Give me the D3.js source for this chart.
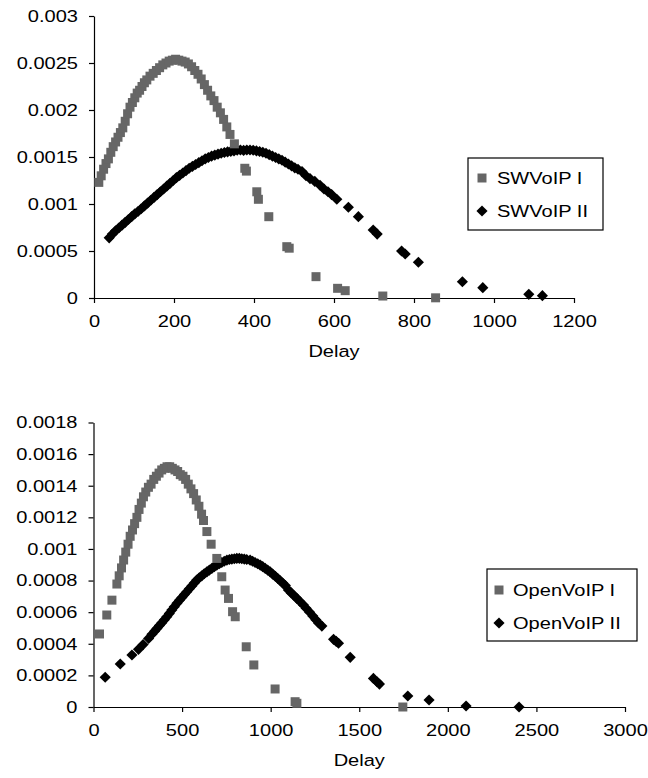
<!DOCTYPE html>
<html>
<head>
<meta charset="utf-8">
<script src="https://cdn.jsdelivr.net/npm/d3@7"></script>
<style>
  html, body { margin: 0; padding: 0; background: #fff; }
  svg { display: block; }
  text { font-family: "Liberation Sans", Arial, sans-serif; font-size: 17px; fill: #000; }
</style>
</head>
<body>
<svg id="chart" width="648" height="778"></svg>
<script>
// ---------- DATA ----------
// Top chart: SWVoIP
const swDelayI = [12,18,24,30,36,42,48,54,60,66,72,78,84,90,96,102,108,114,120,126,132,140,148,156,164,172,180,188,196,204,212,220,228,236,244,252,260,268,276,284,292,300,308,316,324,332,340,351,377,381,407,411,437,482,488,555,609,628,722,854];
const swValueI = [0.00123,0.00130,0.00137,0.00143,0.00148,0.00155,0.00161,0.00166,0.00171,0.00176,0.00181,0.00188,0.00196,0.00203,0.00208,0.00213,0.00218,0.00221,0.00225,0.00229,0.00232,0.00236,0.00239,0.00242,0.00245,0.00248,0.00250,0.00252,0.00253,0.00254,0.00253,0.00252,0.00251,0.00249,0.00246,0.00242,0.00238,0.00233,0.00227,0.00221,0.00215,0.00210,0.00203,0.00197,0.00190,0.00182,0.00174,0.00164,0.00138,0.00135,0.00113,0.00105,0.000865,0.000546,0.00053,0.000227,0.000103,0.000078,0.000021,0.000002];

const swDelayII = [38,46,54,62,70,78,86,94,102,110,118,126,134,142,150,158,166,174,182,190,198,206,214,222,230,238,246,254,262,270,278,286,294,302,310,318,326,334,342,350,358,366,374,382,390,398,406,414,422,430,438,446,454,462,470,478,486,494,502,510,520,530,540,552,565,575,585,594,607,636,661,698,708,769,778,811,921,972,1087,1121];
const swValueII = [0.000640,0.000680,0.000715,0.000745,0.000775,0.000805,0.000835,0.000865,0.000895,0.000920,0.000950,0.000980,0.001010,0.001040,0.001070,0.001100,0.001130,0.001160,0.001190,0.001220,0.001250,0.001280,0.001305,0.001330,0.001355,0.001380,0.001400,0.001420,0.001440,0.001460,0.001480,0.001495,0.001510,0.001520,0.001530,0.001540,0.001548,0.001555,0.001560,0.001565,0.001572,0.001575,0.001570,0.001575,0.001574,0.001572,0.001565,0.001558,0.001550,0.001540,0.001525,0.001510,0.001495,0.001480,0.001465,0.001445,0.001425,0.001405,0.001385,0.001370,0.001345,0.001300,0.001270,0.001240,0.001200,0.001160,0.001130,0.001100,0.001050,0.000965,0.000865,0.000723,0.000680,0.000500,0.000468,0.000380,0.000173,0.000110,0.000039,0.000025];

// Bottom chart: OpenVoIP
const opDelayI = [34,75,104,132,145,158,170,182,195,207,220,232,245,257,270,282,295,310,325,340,355,370,385,400,415,430,445,460,475,490,505,520,535,550,565,580,595,610,621,640,664,696,724,743,762,785,800,862,905,1025,1138,1148,1746];
const opValueI = [0.000462,0.000582,0.000676,0.000778,0.00083,0.00088,0.00093,0.00098,0.00103,0.00108,0.00112,0.00116,0.00120,0.00125,0.00129,0.00133,0.00136,0.00139,0.00141,0.00144,0.00146,0.00148,0.00150,0.00151,0.00152,0.00152,0.00151,0.00150,0.00149,0.00147,0.00146,0.00144,0.00141,0.00138,0.00135,0.00131,0.00127,0.00122,0.00118,0.00111,0.00103,0.00094,0.000824,0.00074,0.000687,0.000603,0.000571,0.000381,0.000266,0.000114,0.0000335,0.0000234,0.0];

const opDelayII = [66,151,217,254,280,311,330,345,358,372,386,400,414,428,442,456,471,485,499,513,527,541,555,569,583,597,611,625,640,654,668,682,696,710,724,738,753,767,781,795,809,823,837,851,865,884,898,912,927,941,955,969,983,997,1011,1026,1040,1054,1068,1083,1100,1116,1132,1148,1165,1185,1200,1220,1238,1255,1270,1289,1355,1370,1383,1449,1580,1600,1614,1774,1894,2103,2402];
const opValueII = [0.000188,0.000272,0.000329,0.000365,0.000395,0.000434,0.000460,0.000480,0.000497,0.000515,0.000533,0.000552,0.000571,0.000592,0.000613,0.000634,0.000656,0.000675,0.000693,0.000711,0.000729,0.000748,0.000766,0.000785,0.000803,0.000818,0.000830,0.000843,0.000855,0.000866,0.000877,0.000888,0.000898,0.000906,0.000914,0.000922,0.000929,0.000933,0.000936,0.000938,0.000940,0.000940,0.000938,0.000936,0.000933,0.000929,0.000922,0.000914,0.000906,0.000898,0.000888,0.000877,0.000866,0.000855,0.000841,0.000827,0.000813,0.000799,0.000784,0.000768,0.000740,0.000722,0.000705,0.000687,0.000668,0.000645,0.000625,0.000600,0.000575,0.000552,0.000532,0.000512,0.000428,0.000415,0.000403,0.000314,0.000181,0.000160,0.000145,0.0000695,0.0000443,0.0000063,0.0];

// Tick values / labels
const topXTicks = [0,200,400,600,800,1000,1200];
const topXLabels = ["0","200","400","600","800","1000","1200"];
const topYTicks = [0,0.0005,0.001,0.0015,0.002,0.0025,0.003];
const topYLabels = ["0","0.0005","0.001","0.0015","0.002","0.0025","0.003"];
const botXTicks = [0,500,1000,1500,2000,2500,3000];
const botXLabels = ["0","500","1000","1500","2000","2500","3000"];
const botYTicks = [0,0.0002,0.0004,0.0006,0.0008,0.001,0.0012,0.0014,0.0016,0.0018];
const botYLabels = ["0","0.0002","0.0004","0.0006","0.0008","0.001","0.0012","0.0014","0.0016","0.0018"];
const topSeriesNames = ["SWVoIP I","SWVoIP II"];
const botSeriesNames = ["OpenVoIP I","OpenVoIP II"];
const xTitle = "Delay";

// ---------- DRAW ----------
const svg = d3.select("#chart");
const SX = 1.18;            // horizontal stretch of the text in the reference
const GRAY = "#666666";
const SQ_AREA = 81, DIA_AREA = 62;

function zip(xs, ys) { return xs.map((x, i) => ({x, y: ys[i]})); }

function drawPanel(cfg) {
  const x = d3.scaleLinear().domain(cfg.xDomain).range(cfg.xRange);
  const y = d3.scaleLinear().domain(cfg.yDomain).range(cfg.yRange);
  const g = svg.append("g");

  // y axis
  const yAxis = d3.axisLeft(y).tickValues(cfg.yTicks)
    .tickFormat((d, i) => cfg.yLabels[i]).tickSize(5).tickSizeOuter(0);
  const ya = g.append("g").attr("transform", `translate(${cfg.xRange[0]},0)`).call(yAxis);
  ya.selectAll("text").attr("x", -16 / SX).attr("transform", `scale(${SX},1)`);

  // x axis
  const xAxis = d3.axisBottom(x).tickValues(cfg.xTicks)
    .tickFormat((d, i) => cfg.xLabels[i]).tickSize(5).tickSizeOuter(0).tickPadding(12);
  const xa = g.append("g").attr("transform", `translate(0,${cfg.yRange[0]})`).call(xAxis);
  xa.selectAll("text").attr("transform", `scale(${SX},1)`);

  [ya, xa].forEach(a => {
    a.select(".domain").attr("stroke", "#000").attr("stroke-width", 1.2);
    a.selectAll(".tick line").attr("stroke", "#000").attr("stroke-width", 1.2);
    a.selectAll("text").style("font-family", '"Liberation Sans", Arial, sans-serif').style("font-size", "17px").attr("fill", "#000");
  });

  // axis title
  const cx = (cfg.xRange[0] + cfg.xRange[1]) / 2;
  g.append("text").attr("transform", `translate(${cx},${cfg.yRange[0] + 59}) scale(${SX},1)`)
    .attr("text-anchor", "middle").text(xTitle);

  // series II (black diamonds)
  g.append("g").selectAll("path").data(zip(cfg.d2, cfg.v2)).join("path")
    .attr("d", d3.symbol(d3.symbolSquare, DIA_AREA)())
    .attr("transform", d => `translate(${x(d.x)},${y(d.y)}) rotate(45)`)
    .attr("fill", "#000");

  // series I (gray squares)
  g.append("g").selectAll("path").data(zip(cfg.d1, cfg.v1)).join("path")
    .attr("d", d3.symbol(d3.symbolSquare, SQ_AREA)())
    .attr("transform", d => `translate(${x(d.x)},${y(d.y)})`)
    .attr("fill", GRAY);

  // legend
  const L = cfg.legend;
  const lg = g.append("g");
  lg.append("rect").attr("x", L.x).attr("y", L.y).attr("width", L.w).attr("height", L.h)
    .attr("fill", "#fff").attr("stroke", "#000").attr("stroke-width", 1.2);
  lg.append("path").attr("d", d3.symbol(d3.symbolSquare, SQ_AREA)())
    .attr("transform", `translate(${L.mx},${L.r1})`).attr("fill", GRAY);
  lg.append("path").attr("d", d3.symbol(d3.symbolSquare, DIA_AREA)())
    .attr("transform", `translate(${L.mx},${L.r2}) rotate(45)`).attr("fill", "#000");
  lg.append("text").attr("transform", `translate(${L.tx},${L.r1 + 6}) scale(${SX},1)`).text(cfg.names[0]);
  lg.append("text").attr("transform", `translate(${L.tx},${L.r2 + 6}) scale(${SX},1)`).text(cfg.names[1]);
}

drawPanel({
  xDomain: [0, 1200], xRange: [94, 574],
  yDomain: [0, 0.003], yRange: [298, 16],
  xTicks: topXTicks, xLabels: topXLabels, yTicks: topYTicks, yLabels: topYLabels,
  d1: swDelayI, v1: swValueI, d2: swDelayII, v2: swValueII,
  names: topSeriesNames,
  legend: {x: 468, y: 158, w: 135, h: 72, mx: 482, tx: 497, r1: 178, r2: 211}
});

drawPanel({
  xDomain: [0, 3000], xRange: [93.5, 625],
  yDomain: [0, 0.0018], yRange: [707, 422.5],
  xTicks: botXTicks, xLabels: botXLabels, yTicks: botYTicks, yLabels: botYLabels,
  d1: opDelayI, v1: opValueI, d2: opDelayII, v2: opValueII,
  names: botSeriesNames,
  legend: {x: 487, y: 569, w: 150, h: 72, mx: 499, tx: 513, r1: 590, r2: 623}
});
</script>
</body>
</html>
